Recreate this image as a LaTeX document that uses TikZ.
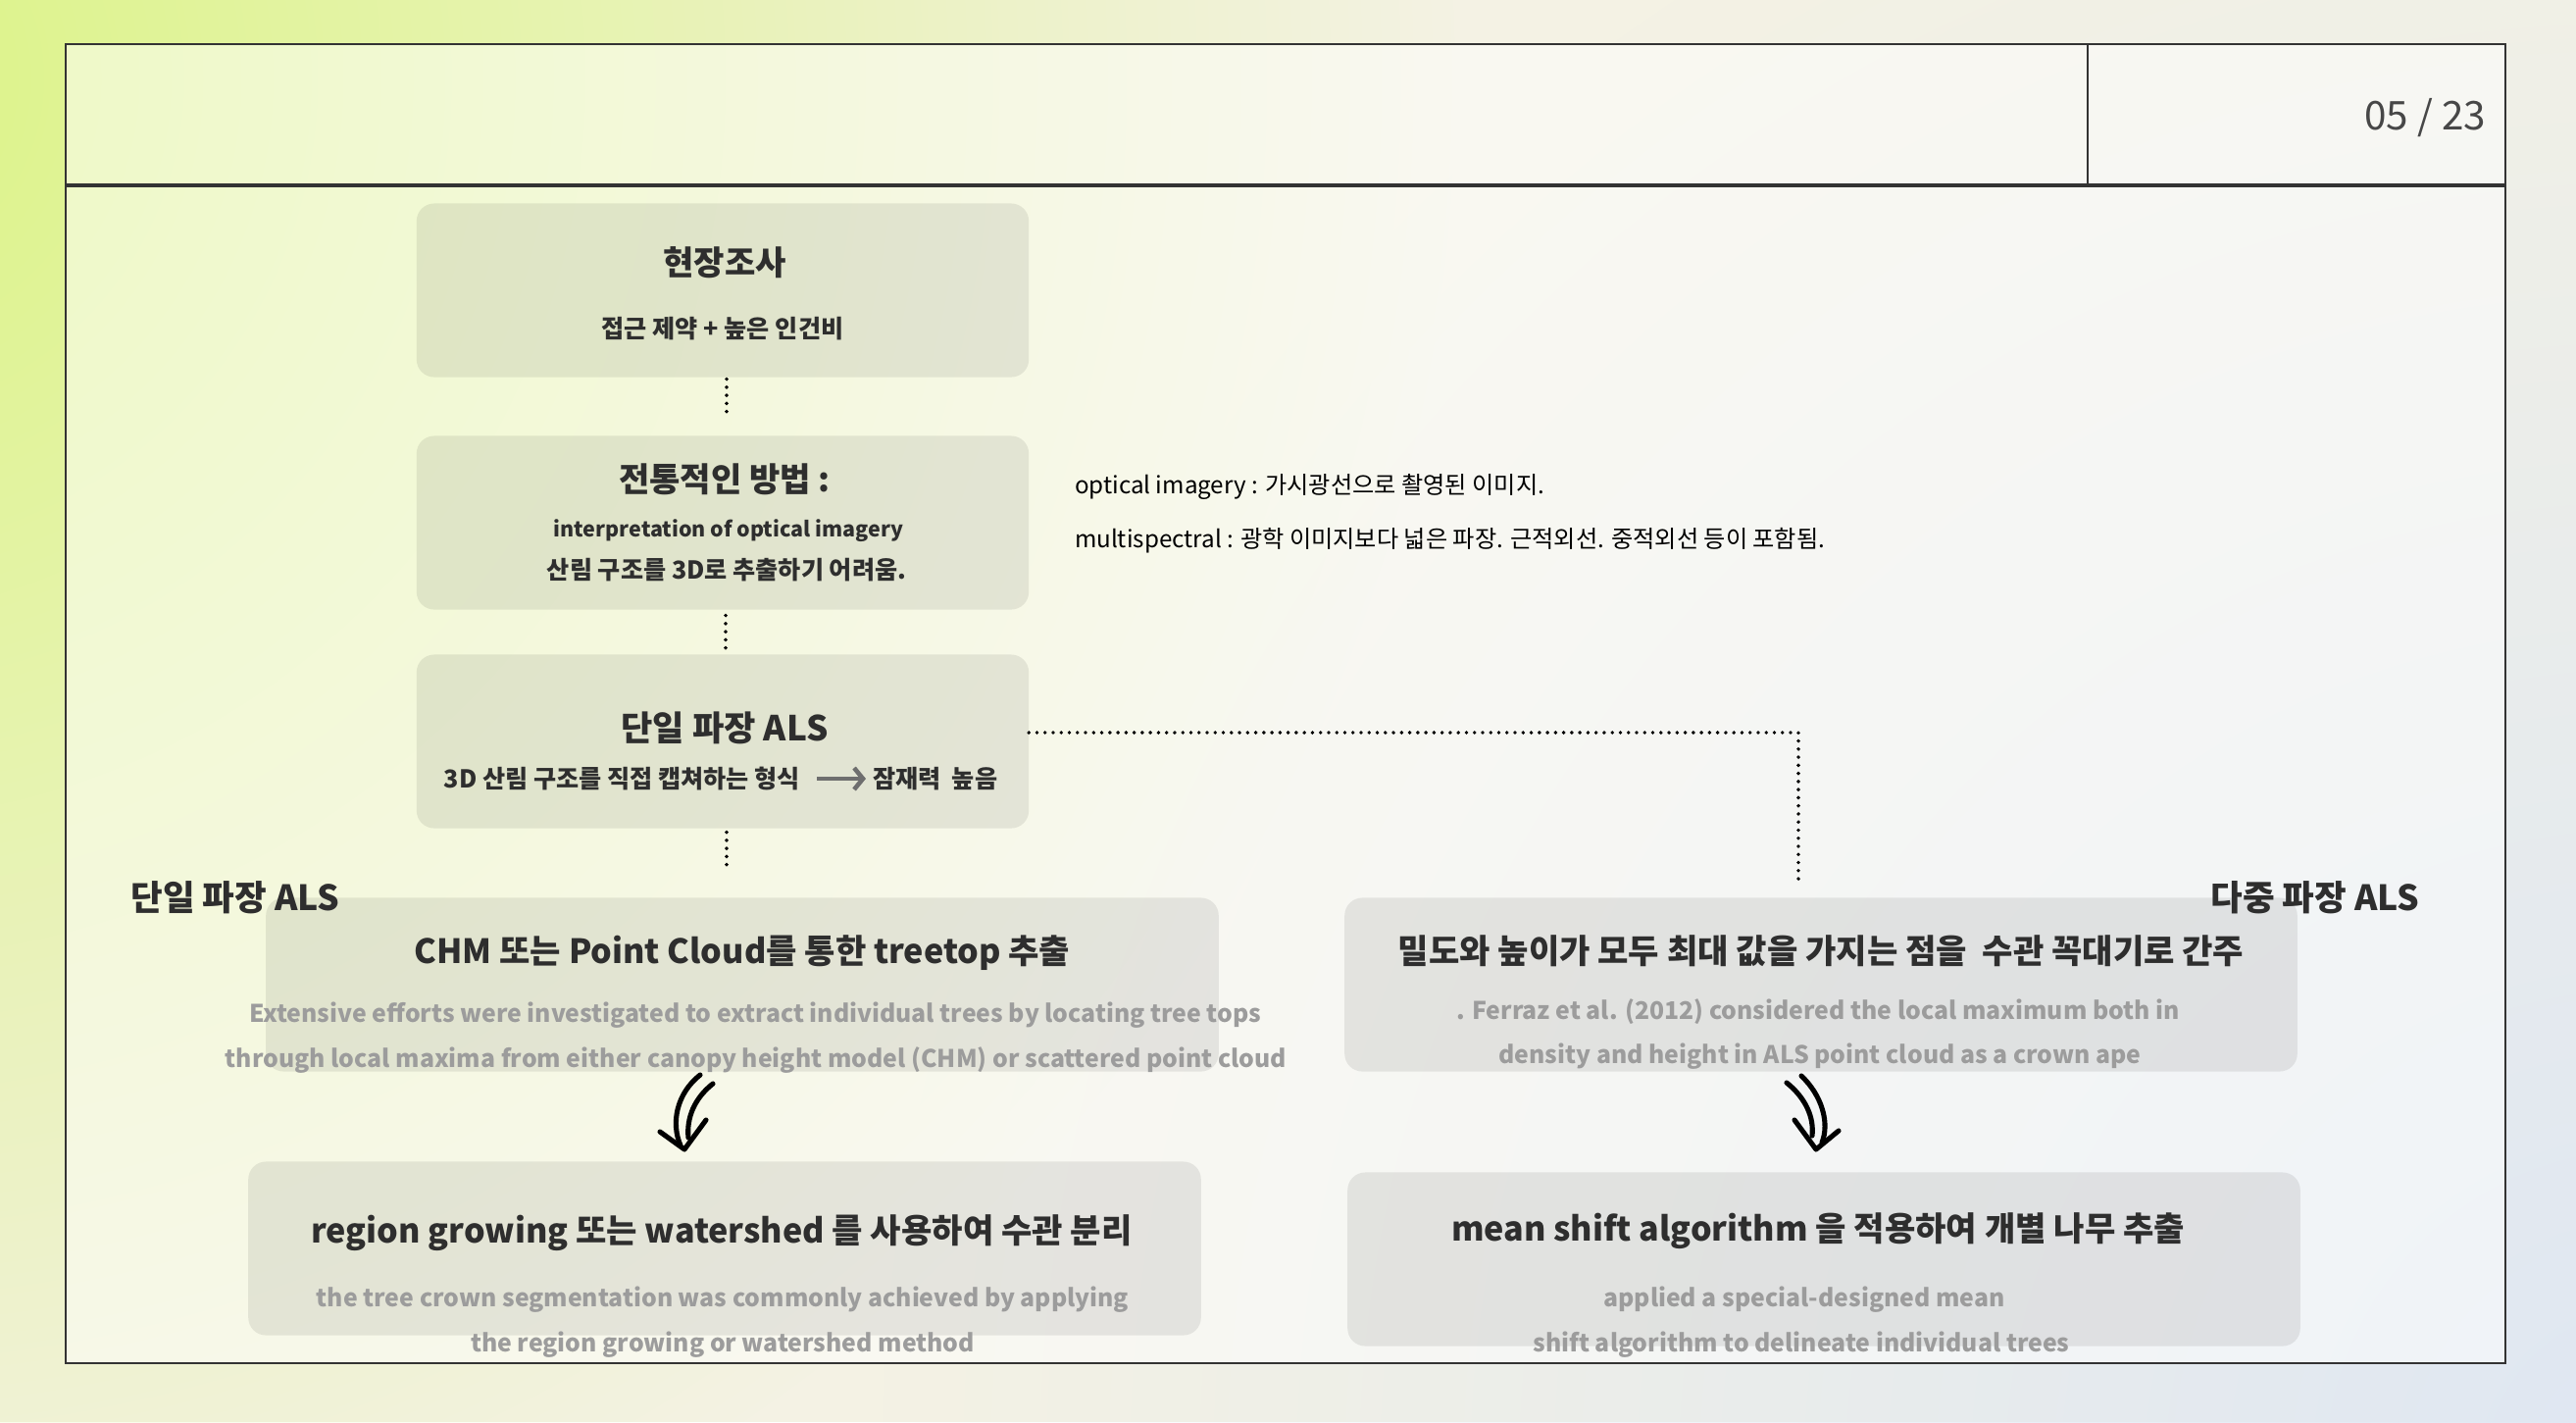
\documentclass[tikz,border=0pt]{standalone}
\usepackage{fontspec}
\setmainfont{Noto Sans CJK KR}
\usepackage{tikz}
\usetikzlibrary{arrows.meta, calc, fadings}
\definecolor{inkdark}{HTML}{2E2E2E}
\definecolor{inkgrey}{HTML}{9C9C9C}
\definecolor{paper}{HTML}{F4F2E4}
\definecolor{lime}{HTML}{DCF486}
\definecolor{mist}{HTML}{DFE7F3}
\definecolor{framegrey}{HTML}{333333}
\definecolor{arrowgrey}{HTML}{6E6E6E}
\tikzfading[name=glow, inner color=transparent!0, outer color=transparent!100]

\begin{document}
\begin{tikzpicture}[
  x=0.01cm, y=-0.01cm,
  every node/.style={inner sep=0pt, outer sep=0pt},
  card/.style={fill=black, fill opacity=0.08, rounded corners=0.18cm, minimum width=#1, minimum height=1.77cm},
  card/.default=9.71cm,
  title/.style={font=\bfseries\fontsize{9.7}{11}\selectfont, text=inkdark},
  gist/.style={font=\bfseries\fontsize{7.15}{8}\selectfont, text=inkdark},
  note/.style={font=\bfseries\fontsize{7.05}{8}\selectfont, text=inkgrey},
  aside/.style={font=\fontsize{6.88}{8}\selectfont, text=black, anchor=west},
  dotline/.style={line width=1.1pt, dash pattern=on 0pt off 2.35pt, line cap=round},
  hand/.style={line width=1.45pt, line cap=round, line join=round},
  pointer/.style={line width=1.3pt, arrowgrey, -{Straight Barb[length=0.09cm, width=0.22cm]}}
]
  \useasboundingbox (0,0) rectangle (2627,1450);

  % background
  \begin{scope}
    \clip (0,0) rectangle (2627,1450);
    \fill[paper] (0,0) rectangle (2627,1450);
    \fill[lime, path fading=glow] (-160,80) circle (1650);
    \fill[mist, path fading=glow] (2700,1500) circle (1800);
  \end{scope}

  % slide frame
  \fill[white, fill opacity=0.5] (67,45) rectangle (2555,1390);
  \draw[line width=0.7pt, framegrey] (67,45) rectangle (2555,1390);
  \draw[line width=0.9pt, framegrey] (67,189) -- (2555,189);
  \draw[line width=0.6pt, framegrey] (2129,45) -- (2129,189);
  \node[font=\fontsize{11.5}{13}\selectfont, text=black!72, anchor=east] (page) at (2535,120) {05 / 23};

  % cards
  \node[card=6.24cm] (survey) at (737,296) {};
  \node[card=6.24cm] (tradition) at (737,533) {};
  \node[card=6.24cm] (single) at (737,756) {};
  \node[card] (chm) at (757,1004) {};
  \node[card] (region) at (739,1273) {};
  \node[card] (density) at (1857,1004) {};
  \node[card] (meanshift) at (1860,1284) {};

  % texts
  \node[title] (surveyT) at (739,268) {현장조사};
  \node[gist] (surveyS) at (737,335) {접근 제약 + 높은 인건비};

  \node[title] (traditionT) at (739,489) {전통적인 방법 :};
  \node[gist, font=\bfseries\fontsize{6.1}{7}\selectfont] (traditionA) at (743,541) {interpretation of optical imagery};
  \node[gist] (traditionB) at (741,581) {산림 구조를 3D로 추출하기 어려움.};

  \node[title, font=\bfseries\fontsize{10}{11}\selectfont] (singleT) at (739,742) {단일 파장 ALS};
  \node[gist, anchor=east] (singleA) at (816,794) {3D 산림 구조를 직접 캡쳐하는 형식};
  \node[gist, anchor=west] (singleB) at (890,794) {잠재력\ \ 높음};

  \node[title] (chmT) at (757,972) {CHM 또는 Point Cloud를 통한 treetop 추출};
  \node[note] (chmA) at (770,1035) {Extensive efforts were investigated to extract individual trees by locating tree tops};
  \node[note] (chmB) at (771,1081) {through local maxima from either canopy height model (CHM) or scattered point cloud};

  \node[title] (regionT) at (736,1257) {region growing 또는 watershed 를 사용하여 수관 분리};
  \node[note] (regionA) at (737,1325) {the tree crown segmentation was commonly achieved by applying};
  \node[note] (regionB) at (737,1371) {the region growing or watershed method};

  \node[title] (densityT) at (1857,970) {밀도와 높이가 모두 최대 값을 가지는 점을\ \ 수관 꼭대기로 간주};
  \node[note] (densityA) at (1854,1032) {. Ferraz et al. (2012) considered the local maximum both in};
  \node[note] (densityB) at (1856,1077) {density and height in ALS point cloud as a crown ape};

  \node[title] (meanshiftT) at (1854,1255) {mean shift algorithm 을 적용하여 개별 나무 추출};
  \node[note] (meanshiftA) at (1840,1325) {applied a special-designed mean};
  \node[note] (meanshiftB) at (1837,1371) {shift algorithm to delineate individual trees};

  \node[title, font=\bfseries\fontsize{10.1}{11}\selectfont] (singleL) at (240,915) {단일 파장 ALS};
  \node[title, font=\bfseries\fontsize{10.1}{11}\selectfont] (multiL) at (2361,915) {다중 파장 ALS};

  \node[aside] (optic) at (1096,496) {optical imagery : 가시광선으로 촬영된 이미지.};
  \node[aside] (multi) at (1096,551) {multispectral : 광학 이미지보다 넓은 파장. 근적외선. 중적외선 등이 포함됨.};

  % connectors
  \draw[dotline, shorten <=0.02cm, shorten >=0.23cm] ([xshift=0.04cm]survey.south) -- ([xshift=0.04cm]tradition.north);
  \draw[dotline, shorten <=0.06cm, shorten >=0.05cm] ([xshift=0.03cm]tradition.south) -- ([xshift=0.03cm]single.north);
  \draw[dotline, shorten <=0.04cm, shorten >=0.31cm] ([xshift=0.04cm]single.south) -- ([xshift=0.04cm]single.south |- chm.north);
  \coordinate (drop) at (1834,915);
  \draw[dotline, shorten >=0.12cm] ([yshift=0.09cm]single.east) -| (drop);
  \draw[pointer, shorten <=0.17cm, shorten >=0.07cm] (singleA.east) -- (singleB.west);

  % hand drawn arrows
  \coordinate (tipL) at (698,1172);
  \coordinate (tipR) at (1852,1172);
  \begin{scope}[shift={(tipL)}]
    \draw[hand] (16,-76) .. controls (-8,-57) and (-14,-27) .. (-4,-4);
    \draw[hand] (29,-67) .. controls (10,-52) and (2,-32) .. (4,-12);
    \draw[hand] (-25,-18) -- (0,0) -- (22,-30);
  \end{scope}
  \begin{scope}[shift={(tipR)}]
    \draw[hand] (-15,-75) .. controls (6,-55) and (14,-27) .. (6,-7);
    \draw[hand] (-30,-68) .. controls (-10,-52) and (-2,-32) .. (-4,-14);
    \draw[hand] (-22,-30) -- (0,0) -- (23,-19);
  \end{scope}
\end{tikzpicture}
\end{document}
